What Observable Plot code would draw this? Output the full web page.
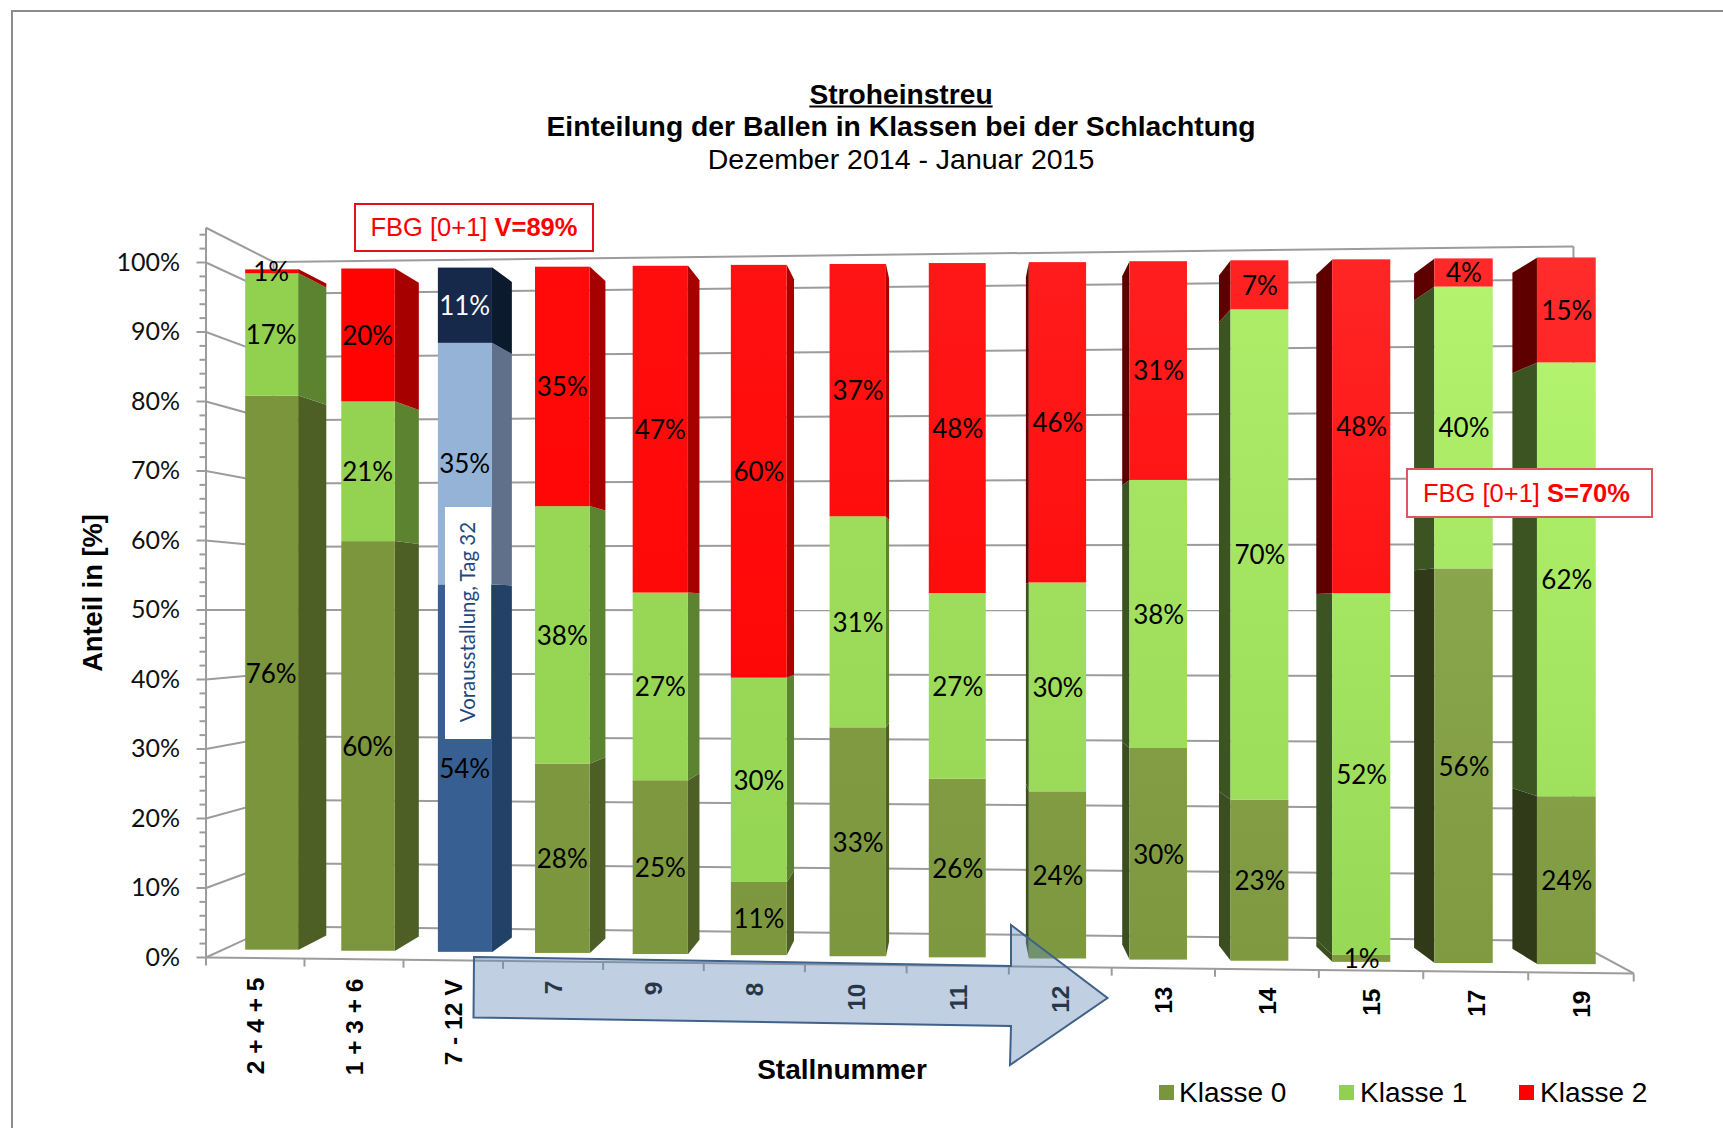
<!DOCTYPE html>
<html lang="de">
<head>
<meta charset="utf-8">
<style>
html,body{margin:0;padding:0;background:#fff;overflow:hidden;width:1723px;height:1128px}
#wrap{position:relative;width:1723px;height:1128px;overflow:hidden}
#frame{position:absolute;left:11px;top:10px;width:2000px;height:2000px;border:2px solid #8c8c8c}
#chart{position:absolute;left:0;top:0}
#chart svg{display:block;background:transparent}
.t{position:absolute;white-space:nowrap;color:#000;font-family:"Liberation Sans",Arial,sans-serif}
.c{transform:translate(-50%,-50%)}
.r{transform:translate(-50%,-50%) rotate(-90deg)}
.box{position:absolute;background:#fff;box-sizing:border-box;display:flex;align-items:center;justify-content:center;color:#ff0000;font-family:"Liberation Sans",Arial,sans-serif;font-size:25.5px;white-space:pre}
.sw{position:absolute;width:15px;height:15px}
#arrow{position:absolute;left:0;top:0}
</style>
<script src="https://cdn.jsdelivr.net/npm/d3@7"></script>
<script src="https://cdn.jsdelivr.net/npm/@observablehq/plot@0.6"></script>
</head>
<body>
<div id="wrap">
  <div id="frame"></div>
  <div id="chart"></div>
</div>
<script>
// ---- data (labels show the rounded values) ----
const stalls = ["2 + 4 + 5","1 + 3 + 6","7 - 12 V","7","9","8","10","11","12","13","14","15","17","19"];
const klasse0 = [76.49,60.4,53.7,27.6,25,10.6,33.2,26,24,30,23,1,56,24];
const klasse1 = [16.9,20.6,35.3,37.5,27,29.6,30.6,27,30,38,70,52,40,62];
const klasse2 = [0.55,19.6,11,34.9,47,59.8,36.6,48,46,31,7,48,4,15];
const classNames = ["Klasse 0","Klasse 1","Klasse 2"];
const majorTicks = d3.range(0,101,10);
const minorTicks = d3.range(0,105,2).filter(d=>d%10!==0);

// ---- colours ----
const baseColor  = ["#7a953b","#92d050","#ff0000"];
const topRight   = ["#95b258","#b7f770","#ff2d2d"];
const botRight   = ["#7f9a40","#98da58","#ff0000"];
const sideRightOf= ["#4e5f26","#5c8430","#a60000"];
const sideLeftOf = ["#3a4e1f","#3c5422","#5f0000"];
const sideFar    = "#303a18";
const blueFront  = ["#375f92","#95b3d7","#16294a"];
const blueSide   = ["#214166","#60708a","#0c1a2e"];

// ---- the 3-D view: floor slot s, percent p, depth t ----
const T_FRONT = 0.0227, T_BACK = 0.0643, T_WALL = 0.0895, GAP = 0.215;
function project(s,p,t){
  const X = 205.5 + 98.2*s + 0.27*s*s;
  const f = (X-205.5)/1428.5;
  const Y = 957 + 16*f - p/100*(695+31.5*f);
  return {x:(X+t*(960-X)-205.5)/102.036, y:(957-(Y+t*(610-Y)))/6.95};
}

// ---- build faces from the values ----
const series = [klasse0,klasse1,klasse2];
const front=[], sides=[], labels=[];
stalls.forEach((name,i)=>{
  const vals = series.map(a=>a[i]);
  const total = d3.sum(vals);
  const squeeze = 100*(1-0.003*i/13);
  let acc = 0;
  vals.forEach((v,k)=>{
    const p0 = acc/total*squeeze, p1 = (acc+v)/total*squeeze; acc += v;
    const sl=i+GAP+0.02*(1-Math.min(i,7)/7), sr=i+1-GAP;
    const a=project(sl,p0,T_FRONT), b=project(sr,p0,T_FRONT), c=project(sl,p1,T_FRONT), d=project(sr,p1,T_FRONT);
    const isBlue = i===2;
    front.push({x1:a.x,x2:b.x,y1:(a.y+b.y)/2,y2:(c.y+d.y)/2,fill:isBlue?blueFront[k]:`url(#g${k}-${i})`});
    const mid=project(i+.5,(p0+p1)/2,T_FRONT);
    labels.push({x:mid.x,y:mid.y,text:Math.round(v)+"%",fill:(isBlue&&k===2)?"#fff":"#000"});
    if(i!==7){
      const edge = i<7?sr:sl;
      const fill = isBlue?blueSide[k]:(i>=12&&k===0)?sideFar:(i<7?sideRightOf:sideLeftOf)[k];
      [T_FRONT,T_BACK].forEach(t=>{
        const q0=project(edge,p0,t), q1=project(edge,p1,t);
        sides.push({x:q0.x,y1:q0.y,y2:q1.y,z:i+"-"+k,fill});
      });
    }
  });
});

// ---- walls and floor ----
const link=(s1,p1,t1,s2,p2,t2)=>{const a=project(s1,p1,t1),b=project(s2,p2,t2);return {x1:a.x,y1:a.y,x2:b.x,y2:b.y};};
const walls=[];
majorTicks.forEach(p=>{
  walls.push(link(0,p,0,0,p,T_WALL));
  walls.push(link(0,p,T_WALL,14,p,T_WALL));
});
walls.push(link(0,105,0,0,105,T_WALL));
walls.push(link(0,105,T_WALL,14,105,T_WALL));
walls.push(link(0,0,T_WALL,0,105,T_WALL));
walls.push(link(14,0,T_WALL,14,105,T_WALL));
walls.push(link(0,0,0,0,105,0));
walls.push(link(14,0,0,14,0,T_WALL));
walls.push(link(0,0,0,14,0,0));
const xTicks=d3.range(0,15).map(s=>{const a=project(s,0,0);return {x1:a.x,x2:a.x,y1:a.y,y2:a.y-8/6.95};});
const xLabels=stalls.map((name,i)=>({x:project(i+.5,0,0).x+0.012,y:(957-(977+i))/6.95,text:name}));

const gradients=()=>{
  const defs=d3.create("svg:defs");
  stalls.forEach((_,i)=>baseColor.forEach((b,k)=>{
    const g=defs.append("linearGradient").attr("id",`g${k}-${i}`).attr("gradientUnits","userSpaceOnUse")
      .attr("x1",0).attr("x2",0).attr("y1",250).attr("y2",960);
    g.append("stop").attr("offset",0).attr("stop-color",d3.interpolateRgb(b,topRight[k])(i/13));
    g.append("stop").attr("offset",1).attr("stop-color",d3.interpolateRgb(b,botRight[k])(i/13));
  }));
  return defs.node();
};

const chart=Plot.plot({
  width:1723,height:1128,
  marginLeft:205.5,marginRight:89,marginTop:227.25,marginBottom:171,
  x:{type:"linear",domain:[0,14],axis:null},
  y:{type:"linear",domain:[0,105],axis:null},
  color:{type:"identity"},
  style:{background:"transparent",overflow:"visible"},
  marks:[
    gradients,
    Plot.link(walls,{x1:"x1",y1:"y1",x2:"x2",y2:"y2",stroke:"#9c9c9c",strokeWidth:2}),
    Plot.link(xTicks,{x1:"x1",y1:"y1",x2:"x2",y2:"y2",stroke:"#9c9c9c",strokeWidth:2}),
    Plot.axisY({anchor:"left",ticks:minorTicks,tickSize:6,tickFormat:()=>"",stroke:"#9c9c9c",strokeWidth:2,label:null}),
    Plot.axisY({anchor:"left",ticks:majorTicks,tickSize:9,tickPadding:17,tickFormat:d=>d+"%",stroke:"#9c9c9c",strokeWidth:2,fill:"#111",fontSize:25,fontFamily:"Lato",label:null}),
    Plot.areaY(sides,{x:"x",y1:"y1",y2:"y2",z:"z",fill:"fill"}),
    Plot.rect(front,{x1:"x1",x2:"x2",y1:"y1",y2:"y2",fill:"fill"}),
    Plot.text(labels,{x:"x",y:"y",text:"text",fill:"fill",fontSize:26,fontFamily:"Lato",dy:1}),
    Plot.text(xLabels,{x:"x",y:"y",text:"text",rotate:-90,textAnchor:"end",fontSize:24.5,fontWeight:"bold",fontFamily:"Liberation Sans",fill:"#000"})
  ]
});
document.getElementById("chart").appendChild(chart);

// ---- annotations around the plot ----
const wrap=document.getElementById("wrap");
function text(str,x,y,cls,size,weight,extra){
  const el=document.createElement("div");
  el.className="t "+cls; el.textContent=str;
  el.style.left=x+"px"; el.style.top=y+"px"; el.style.fontSize=size+"px";
  el.style.fontWeight=weight||"normal";
  if(extra) Object.assign(el.style,extra);
  wrap.appendChild(el); return el;
}
text("Stroheinstreu",901,94,"c",28.2,"bold",{textDecoration:"underline"});
text("Einteilung der Ballen in Klassen bei der Schlachtung",901,126,"c",28.3,"bold");
text("Dezember 2014 - Januar 2015",901,159,"c",28.5);
text("Anteil in [%]",93,593,"r",27.3,"bold");
text("Stallnummer",842,1070,"c",28,"bold");

function box(label,bold,x,y,w,h,color,pad){
  const el=document.createElement("div");
  el.className="box";
  Object.assign(el.style,{left:x+"px",top:y+"px",width:w+"px",height:h+"px",border:"2px solid "+color,paddingRight:(pad||0)+"px"});
  el.innerHTML=label+" <b>"+bold+"</b>";
  wrap.appendChild(el);
}
box("FBG [0+1]","V=89%",354,203,240,49,"#e2101c");
box("FBG [0+1]","S=70%",1406,468,247,50,"#df5560",6);

const vor=document.createElement("div");
Object.assign(vor.style,{position:"absolute",left:"445px",top:"507px",width:"46px",height:"232px",background:"#fff"});
wrap.appendChild(vor);
text("Vorausstallung, Tag 32",467,622,"r",20.5,"normal",{fontFamily:"Lato",color:"#1f497d"});

// arrow
const arrowPts=[[474,957],[1011,966],[1011,925],[1107.5,998],[1010,1065],[1011,1026],[473.5,1017.5]];
d3.select(wrap).append("svg").attr("id","arrow").attr("width",1723).attr("height",1128)
  .append("polygon").attr("points",arrowPts.join(" "))
  .attr("fill","rgb(97,135,180)").attr("fill-opacity",.4)
  .attr("stroke","#3f618a").attr("stroke-width",2);

// legend
[[1159,1179],[1339,1360],[1519,1540]].forEach(([sx,tx],k)=>{
  const s=document.createElement("div");
  s.className="sw"; s.style.left=sx+"px"; s.style.top="1085px"; s.style.background=baseColor[k];
  wrap.appendChild(s);
  const el=text(classNames[k],tx,1093,"",28);
  el.style.transform="translateY(-50%)";
});
</script>
</body>
</html>
